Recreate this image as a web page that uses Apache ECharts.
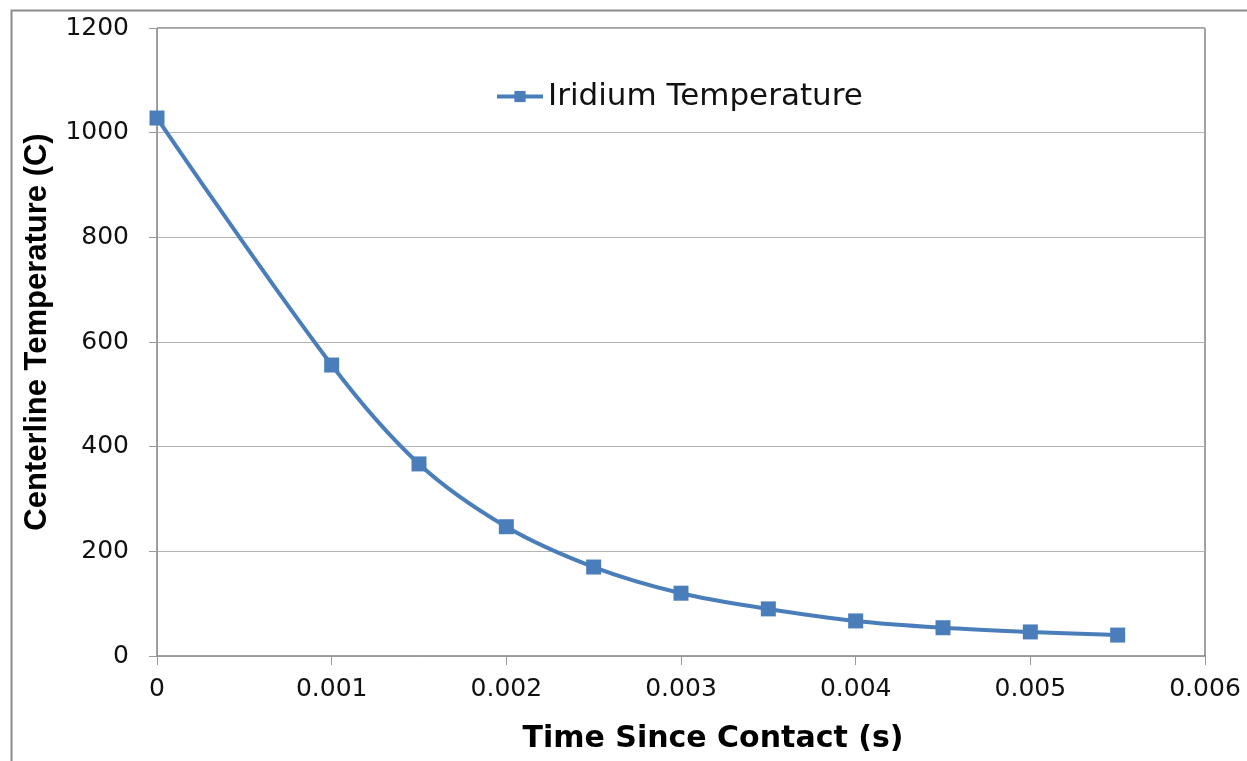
<!DOCTYPE html>
<html>
<head>
<meta charset="utf-8">
<script src="https://cdn.jsdelivr.net/npm/echarts@6/dist/echarts.min.js"></script>
<style>html,body{margin:0;padding:0;background:#fff;}#c{width:1247px;height:761px;}</style>
</head>
<body>
<div id="c"></div>
<script>
const times = [0, 0.001, 0.0015, 0.002, 0.0025, 0.003, 0.0035, 0.004, 0.0045, 0.005, 0.0055];
const temps = [1028, 556, 367, 247, 170, 120, 90, 67, 54, 46, 40];
const seriesName = 'Iridium Temperature';
const xTitle = 'Time Since Contact (s)';
const yTitle = 'Centerline Temperature (C)';

const chart = echarts.init(document.getElementById('c'));
const tickFont = { fontFamily: 'DejaVu Sans', fontSize: 25, color: '#111' };
chart.setOption({
  animation: false,
  backgroundColor: '#fff',
  graphic: [{
    type: 'rect', left: 9, top: 8, shape: { width: 1300, height: 800 },
    style: { fill: 'none', stroke: '#8c8c8c', lineWidth: 2 }, silent: true, z: -1
  }],
  legend: {
    left: 490, top: 76, itemWidth: 46, itemHeight: 14, itemGap: 2,
    lineStyle: { width: 4 },
    textStyle: { fontFamily: 'DejaVu Sans', fontSize: 31, color: '#111' },
    data: [{ name: seriesName }]
  },
  grid: { left: 157, right: 42, top: 28, bottom: 105, show: true, borderColor: '#444', borderWidth: 1 },
  xAxis: {
    type: 'value', min: 0, max: 0.006, interval: 0.001,
    name: xTitle, nameLocation: 'middle', nameGap: 68,
    nameTextStyle: { fontFamily: 'DejaVu Sans', fontWeight: 'bold', fontSize: 30, color: '#000', padding: [0, 0, 0, 64] },
    axisLine: { lineStyle: { color: '#999' } },
    axisTick: { show: true, length: 9, lineStyle: { color: '#999' } },
    axisLabel: Object.assign({ margin: 21, formatter: v => String(+v.toFixed(4)) }, tickFont),
    splitLine: { show: false }
  },
  yAxis: {
    type: 'value', min: 0, max: 1200, interval: 200,
    name: yTitle, nameLocation: 'middle', nameGap: 104,
    nameTextStyle: { fontFamily: 'Liberation Sans Narrow, Liberation Sans', fontWeight: 'bold', fontSize: 31, color: '#000', padding: [0, 0, 0, 20] },
    axisLine: { show: true, lineStyle: { color: '#999' } },
    axisTick: { show: true, length: 8, lineStyle: { color: '#999' } },
    axisLabel: Object.assign({ margin: 28, formatter: v => String(v) }, tickFont),
    splitLine: { show: true, lineStyle: { color: '#b4b4b4', width: 1 } }
  },
  series: [{
    name: seriesName, type: 'line', smooth: 0.35,
    data: times.map((t, i) => [t, temps[i]]),
    symbol: 'rect', symbolSize: 15,
    lineStyle: { color: '#4a7ebb', width: 4 },
    itemStyle: { color: '#4a7ebb' }
  }]
});
</script>
</body>
</html>
